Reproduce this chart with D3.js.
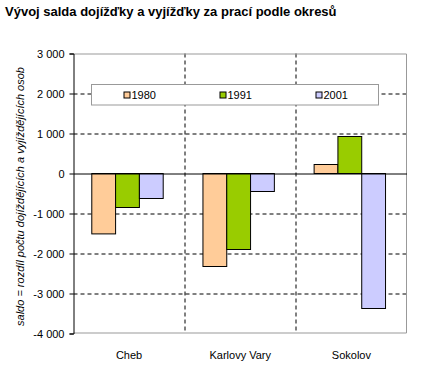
<!DOCTYPE html>
<html>
<head>
<meta charset="utf-8">
<script src="https://cdn.jsdelivr.net/npm/d3@7"></script>
<style>
  body { margin: 0; background: #fff; }
  svg { display: block; }
</style>
</head>
<body>
<div id="chart"></div>
<script>
const districts = ["Cheb", "Karlovy Vary", "Sokolov"];
const years = ["1980", "1991", "2001"];
const values1980 = [-1510, -2325, 225];
const values1991 = [-850, -1900, 925];
const values2001 = [-625, -450, -3375];
const yTicks = [3000, 2000, 1000, 0, -1000, -2000, -3000, -4000];
const colors = ["#FFCC99", "#99CC00", "#CCCCFF"];

const series = [values1980, values1991, values2001];
const rows = districts.map((d, i) => ({
	district: d,
	vals: years.map((y, j) => ({ year: y, value: series[j][i] }))
}));

const width = 440, height = 375;
const margin = { top: 53.5, right: 33, bottom: 41.5, left: 73.5 };
const innerW = width - margin.left - margin.right;
const innerH = height - margin.top - margin.bottom;

const svg = d3.select("#chart").append("svg")
	.attr("width", width)
	.attr("height", height)
	.style("font-family", "Arial, 'Liberation Sans', sans-serif");

svg.append("text")
	.attr("x", 5)
	.attr("y", 16)
	.style("font-weight", "bold")
	.style("font-size", "13px")
	.text("Vývoj salda dojížďky a vyjížďky za prací podle okresů");

const g = svg.append("g").attr("transform", `translate(${margin.left},${margin.top})`);

const y = d3.scaleLinear().domain([-4000, 3000]).range([innerH, 0]);
const x0 = d3.scaleBand().domain(districts).range([0, innerW]);
const x1 = d3.scaleBand().domain(years).range([0, x0.bandwidth()])
	.paddingInner(0).paddingOuter(0.835).align(0.46);

// horizontal grid lines
g.append("g")
	.selectAll("line")
	.data(yTicks.filter(t => t !== 0 && t !== 3000 && t !== -4000))
	.join("line")
	.attr("x1", 0).attr("x2", innerW)
	.attr("y1", d => Math.round(y(d)) + 0.5).attr("y2", d => Math.round(y(d)) + 0.5)
	.attr("stroke", "#000")
	.attr("stroke-dasharray", "4,3");

// vertical category dividers
g.append("g")
	.selectAll("line")
	.data(districts.slice(1))
	.join("line")
	.attr("x1", d => Math.round(x0(d)) + 0.5).attr("x2", d => Math.round(x0(d)) + 0.5)
	.attr("y1", 0).attr("y2", innerH)
	.attr("stroke", "#000")
	.attr("stroke-dasharray", "4,3");

// plot border (gray)
g.append("path")
	.attr("d", `M0,0.5H${innerW - 0.5}V${innerH - 0.5}H0`)
	.attr("fill", "none")
	.attr("stroke", "#999");

// bars
g.append("g")
	.selectAll("g")
	.data(rows)
	.join("g")
	.attr("transform", d => `translate(${x0(d.district)},0)`)
	.selectAll("rect")
	.data(d => d.vals)
	.join("rect")
	.attr("x", d => x1(d.year))
	.attr("width", x1.bandwidth())
	.attr("y", d => y(Math.max(0, d.value)))
	.attr("height", d => Math.abs(y(d.value) - y(0)))
	.attr("fill", (d, i) => colors[i])
	.attr("stroke", "#000")
	.attr("stroke-width", 1);

// zero line
g.append("line")
	.attr("x1", 0).attr("x2", innerW)
	.attr("y1", Math.round(y(0)) + 0.5).attr("y2", Math.round(y(0)) + 0.5)
	.attr("stroke", "#000");

// y axis
const yAxis = d3.axisLeft(y)
	.tickValues(yTicks)
	.tickSize(4)
	.tickPadding(5)
	.tickFormat(d => d3.format(",")(d).replace(/,/g, " ").replace("−", "-"));

g.append("g")
	.call(yAxis)
	.call(a => a.select(".domain").attr("stroke", "#000"))
	.call(a => a.selectAll("text").style("font-size", "11px").style("font-family", "Arial, 'Liberation Sans', sans-serif"));

// x labels
g.append("g")
	.selectAll("text")
	.data(districts)
	.join("text")
	.attr("x", d => x0(d) + x0.bandwidth() / 2)
	.attr("y", innerH + 25)
	.attr("text-anchor", "middle")
	.style("font-size", "11px")
	.text(d => d);

// y label
svg.append("text")
	.attr("transform", `translate(24,${margin.top + innerH / 2 + 3}) rotate(-90)`)
	.attr("text-anchor", "middle")
	.style("font-size", "11px")
	.style("font-style", "italic")
	.text("saldo = rozdíl počtu dojíždějících a vyjíždějících osob");

// legend
const legend = svg.append("g").attr("transform", "translate(91.5,84.5)");
legend.append("rect")
	.attr("width", 287)
	.attr("height", 20.5)
	.attr("fill", "#fff")
	.attr("stroke", "#999");

const legendX = d3.scalePoint().domain(years).range([32, 224]);
const item = legend.selectAll("g")
	.data(years)
	.join("g")
	.attr("transform", d => `translate(${legendX(d)},0)`);
item.append("rect")
	.attr("x", 0.5).attr("y", 7.5)
	.attr("width", 6).attr("height", 6)
	.attr("fill", (d, i) => colors[i])
	.attr("stroke", "#000");
item.append("text")
	.attr("x", 8)
	.attr("y", 14.5)
	.style("font-size", "11px")
	.text(d => d);
</script>
</body>
</html>
